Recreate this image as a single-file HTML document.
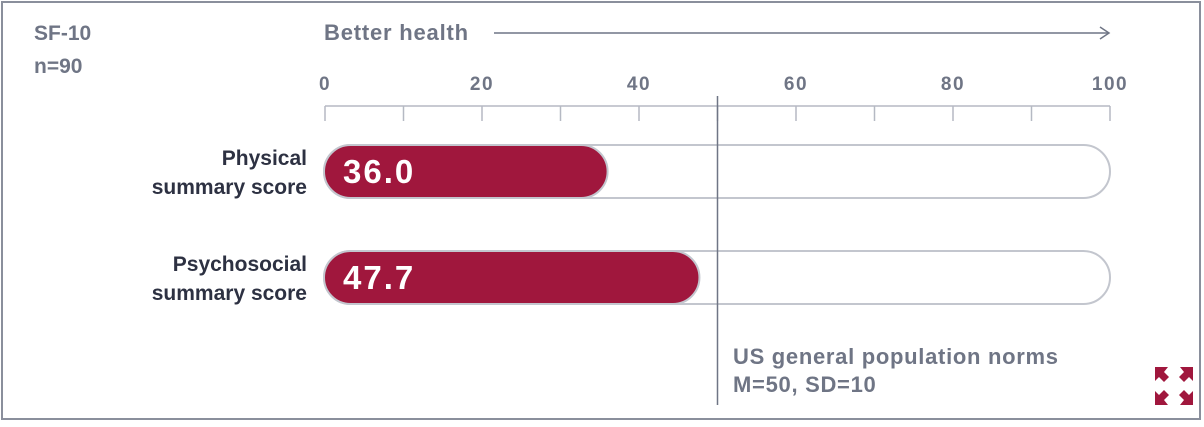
<!DOCTYPE html>
<html><head><meta charset="utf-8"><style>
body{margin:0;background:#fff;width:1204px;height:422px;overflow:hidden;font-family:"Liberation Sans",sans-serif}
</style></head><body>
<svg width="1204" height="422" xmlns="http://www.w3.org/2000/svg">
<rect x="2" y="2" width="1198" height="417" fill="#fff" stroke="#8a8f9c" stroke-width="2"/>
<text x="34" y="40" font-size="21" font-weight="bold" fill="#6f7585">SF-10</text>
<text x="34" y="73" font-size="21" font-weight="bold" fill="#6f7585">n=90</text>
<text x="324" y="40" font-size="22" font-weight="bold" fill="#6f7585" letter-spacing="0.8">Better health</text>
<line x1="494" y1="33" x2="1108" y2="33" stroke="#6f7585" stroke-width="1.5"/>
<polyline points="1100,27 1109,33 1100,39" fill="none" stroke="#6f7585" stroke-width="1.5"/>
<g id="axis"></g>
<g id="bars"></g>
<text x="733" y="364" font-size="22" font-weight="bold" fill="#6f7585" letter-spacing="0.7">US general population norms</text>
<text x="733" y="392" font-size="22" font-weight="bold" fill="#6f7585" letter-spacing="0.7">M=50, SD=10</text>
<g fill="#a0173d">
<polygon points="1155,367 1168,367 1164,372 1169,377 1164,382 1159,377 1155,381"/>
<polygon points="1193,367 1180,367 1184,372 1179,377 1184,382 1189,377 1193,381"/>
<polygon points="1155,405 1168,405 1164,400 1169,395 1164,390 1159,395 1155,391"/>
<polygon points="1193,405 1180,405 1184,400 1179,395 1184,390 1189,395 1193,391"/>
</g>
</svg>
<script>
const categories=[["Physical","summary score"],["Psychosocial","summary score"]];
const values=[36.0,47.7];
const ticks=[0,10,20,30,40,50,60,70,80,90,100];
const tickLabels=[0,20,40,60,80,100];
const norm=50;
const NS="http://www.w3.org/2000/svg";
const x=v=>325+v*7.85;
const rowY=[145,251], bh=53;
function mk(t,a,p){const e=document.createElementNS(NS,t);for(const k in a)e.setAttribute(k,a[k]);p.appendChild(e);return e;}
const ax=document.getElementById('axis'), bars=document.getElementById('bars');
mk('line',{x1:x(0),y1:106,x2:x(100),y2:106,stroke:'#b5b9c3','stroke-width':1.5},ax);
ticks.forEach(t=>{const l=mk('line',{x1:x(t),y1:106,x2:x(t),y2:121,stroke:'#b5b9c3','stroke-width':1.5},ax);

});
tickLabels.forEach(t=>{const e=mk('text',{x:x(t),y:90,'font-size':19,'font-weight':'bold',fill:'#6f7585','text-anchor':'middle','letter-spacing':1.5},ax);e.textContent=t;

});
values.forEach((v,i)=>{const y=rowY[i];
const tr=mk('rect',{x:x(0)-1,y:y,width:x(100)-x(0)+1,height:bh,rx:bh/2,fill:'#fff',stroke:'#c3c6ce','stroke-width':2},bars);


const b=mk('rect',{x:x(0)-1,y:y,width:x(v)-x(0)+1,height:bh,rx:bh/2,fill:'#a0173d',stroke:'#c3c6ce','stroke-width':2},bars);


const t=mk('text',{x:x(0)+18,y:y+38,'font-size':33,'font-weight':'bold',fill:'#fff','letter-spacing':2},bars);t.textContent=v.toFixed(1);


categories[i].forEach((s,j)=>{const c=mk('text',{x:307,y:y+20+j*29,'font-size':21,'font-weight':'bold',fill:'#2d3142','text-anchor':'end'},bars);c.textContent=s;

});
});
const nl=mk('line',{x1:x(norm),y1:96,x2:x(norm),y2:405,stroke:'#6f7585','stroke-width':1.5},bars);


</script>
</body></html>
